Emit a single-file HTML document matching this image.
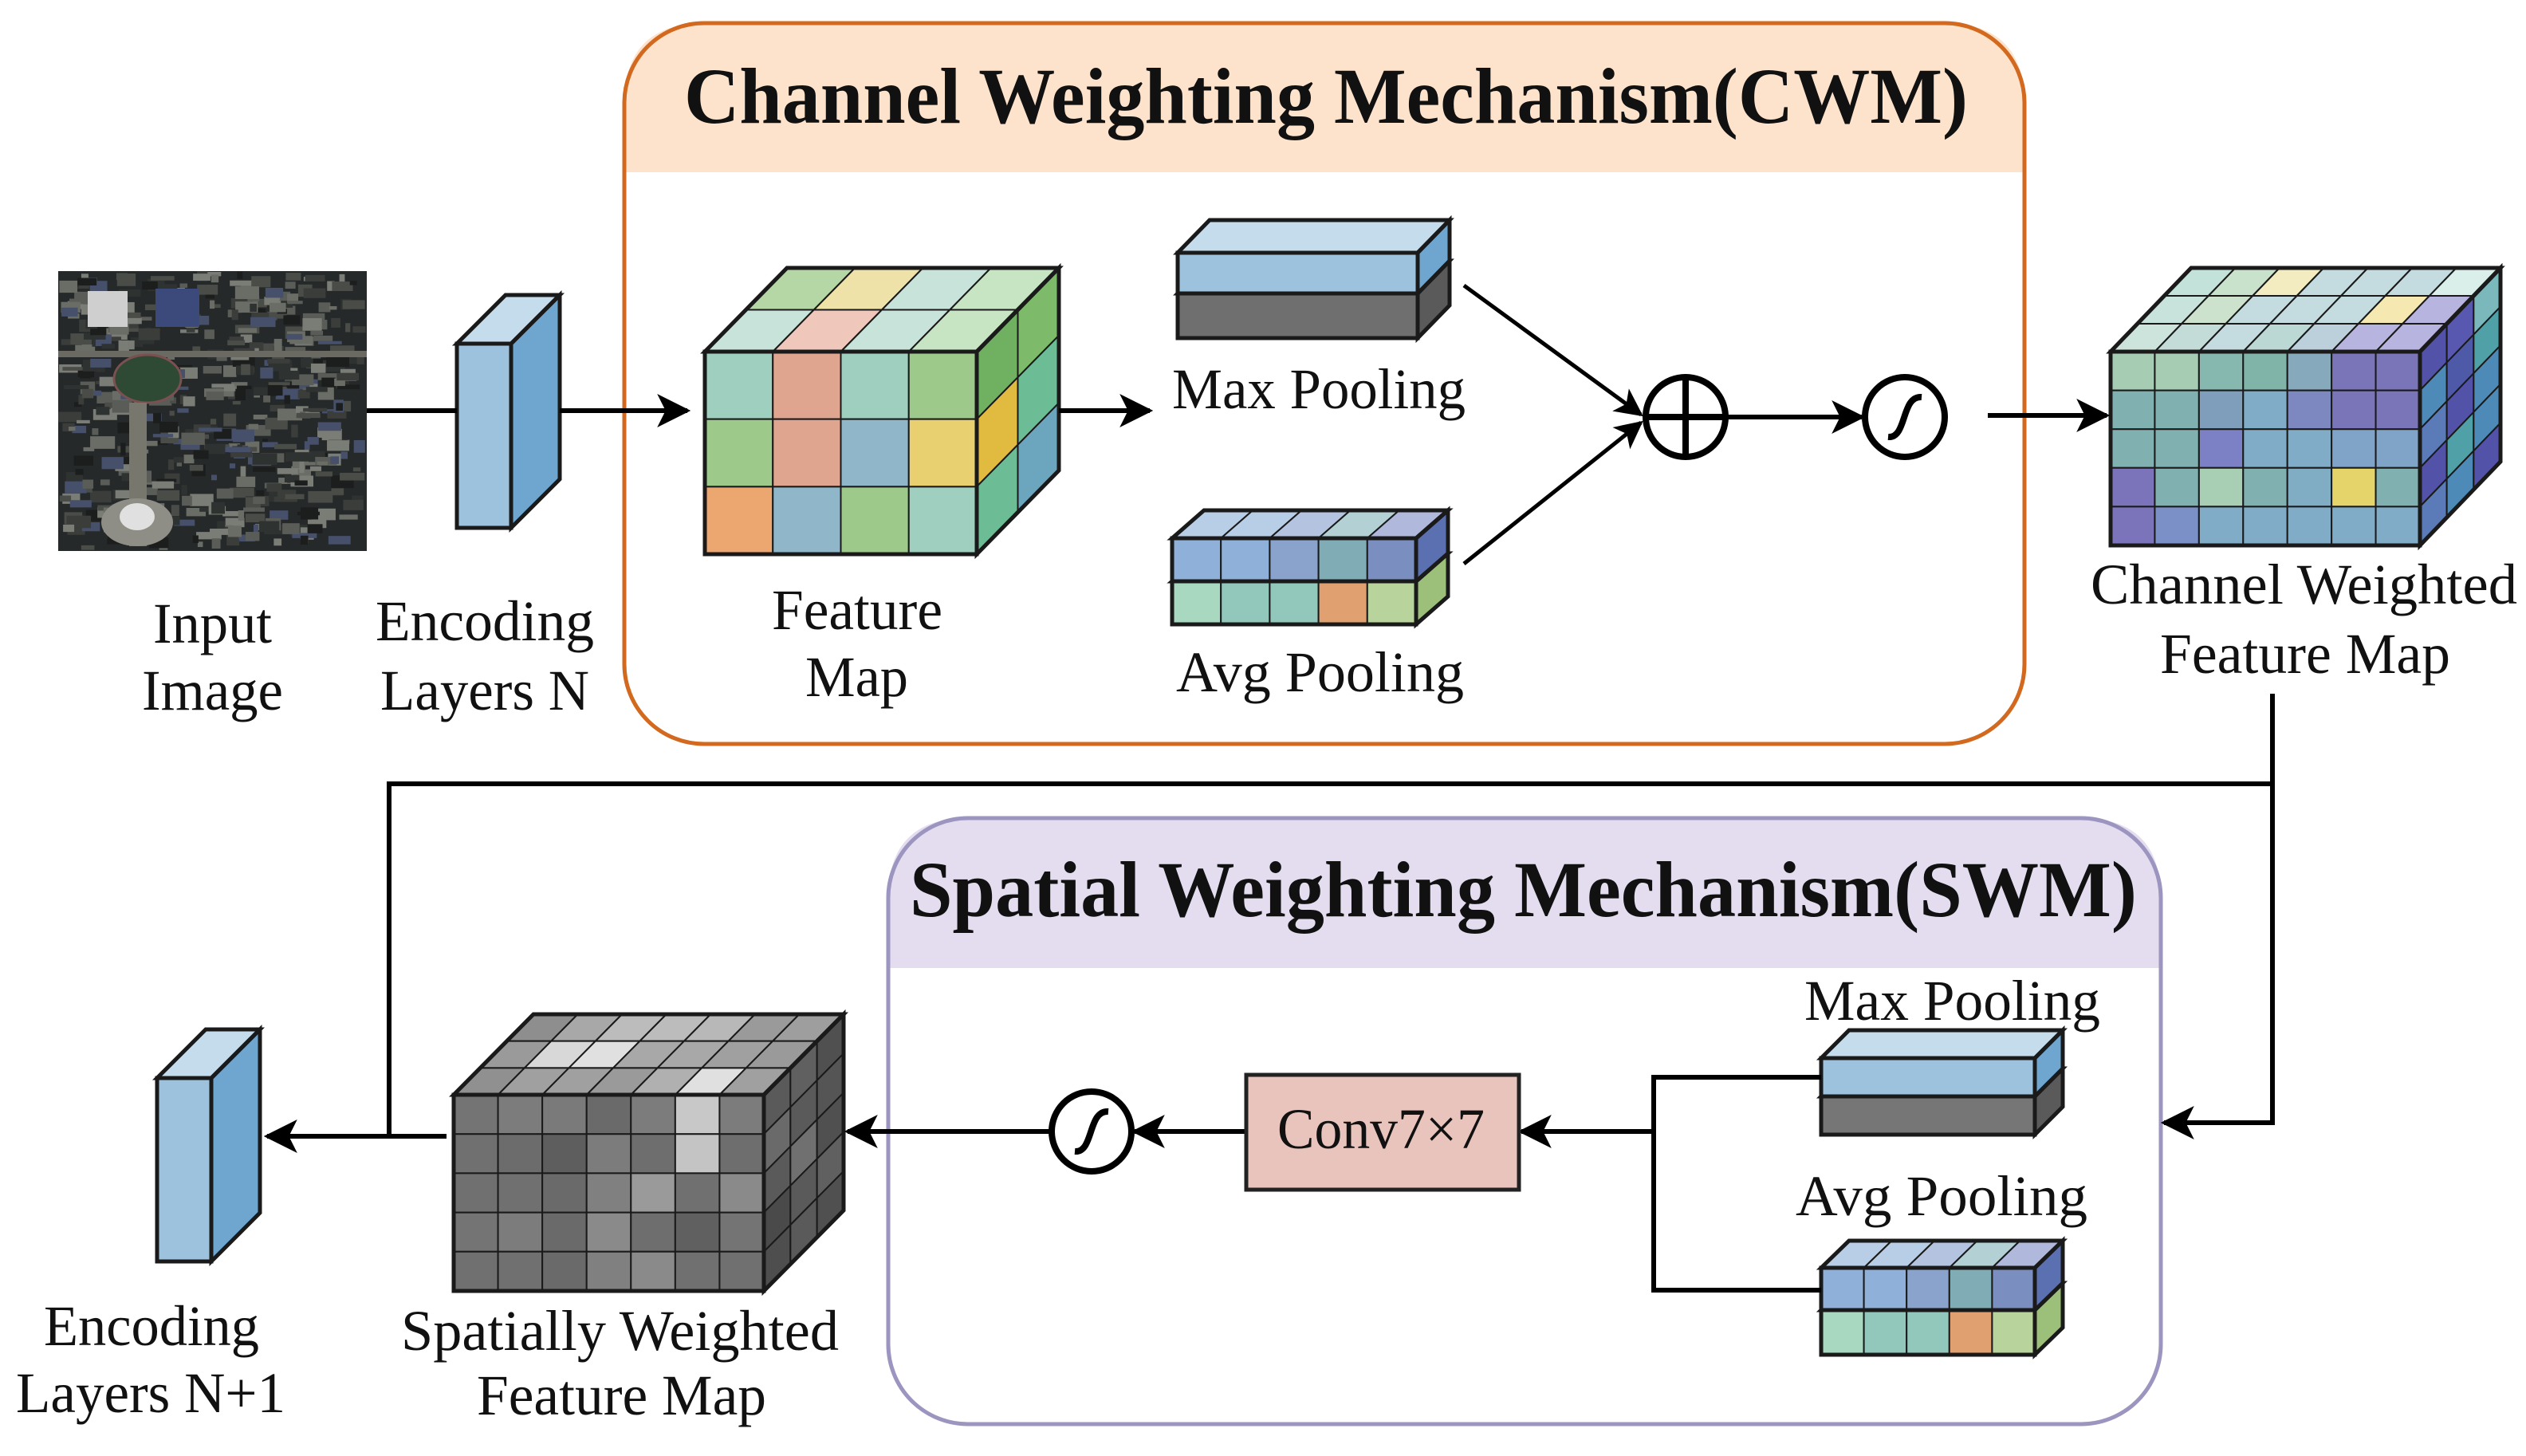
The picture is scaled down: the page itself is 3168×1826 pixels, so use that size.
<!DOCTYPE html>
<html><head><meta charset="utf-8"><style>
html,body{margin:0;padding:0;background:#fff;width:3168px;height:1826px;overflow:hidden}
svg{display:block}
text{font-family:"Liberation Serif",serif;fill:#111}
.l{font-size:72px}
.t{font-size:100px;font-weight:bold}
</style></head><body>
<svg id="s" width="3168" height="1826" viewBox="0 0 3168 1826" xmlns="http://www.w3.org/2000/svg">
<defs>
<marker id="ah" viewBox="0 0 20 20" refX="18" refY="10" markerWidth="7" markerHeight="7" orient="auto" markerUnits="strokeWidth">
<path d="M0,0 L20,10 L0,20 L5,10 Z" fill="#000"/>
</marker>
</defs>
<!-- CWM box -->
<path d="M783,216 V130 Q783,29 884,29 H2438 Q2539,29 2539,130 V216 Z" fill="#fde3cc"/>
<rect x="783" y="29" width="1756" height="904" rx="100" fill="none" stroke="#d2691e" stroke-width="5"/>
<text class="t" x="858" y="154" textLength="1610" lengthAdjust="spacingAndGlyphs">Channel Weighting Mechanism(CWM)</text>
<!-- SWM box -->
<path d="M1114,1214 V1126 Q1114,1026 1214,1026 H2610 Q2710,1026 2710,1126 V1214 Z" fill="#e4ddf0"/>
<rect x="1114" y="1026" width="1596" height="760" rx="100" fill="none" stroke="#9b95c0" stroke-width="5"/>
<text class="t" x="1141" y="1149" textLength="1539" lengthAdjust="spacingAndGlyphs">Spatial Weighting Mechanism(SWM)</text>

<!-- input image -->
<g id="img">
<rect x="73" y="340" width="387" height="351" fill="#26292a"/>
</g>
<g id="cubes"></g>

<!-- CWM connectors -->
<g stroke="#000" stroke-width="6" fill="none">
<line x1="460" y1="515" x2="573" y2="515"/>
<line x1="702" y1="515" x2="862" y2="515" marker-end="url(#ah)"/>
<line x1="1328" y1="515" x2="1442" y2="515" marker-end="url(#ah)"/>
<line x1="1836" y1="358" x2="2058" y2="520" stroke-width="5" marker-end="url(#ah)"/>
<line x1="1836" y1="707" x2="2058" y2="530" stroke-width="5" marker-end="url(#ah)"/>
<circle cx="2114" cy="523" r="50" stroke-width="8"/>
<line x1="2064" y1="523" x2="2164" y2="523" stroke-width="8"/>
<line x1="2114" y1="473" x2="2114" y2="573" stroke-width="8"/>
<line x1="2164" y1="523" x2="2335" y2="523" marker-end="url(#ah)"/>
<circle cx="2389" cy="523" r="50" stroke-width="8"/>
<path d="M2368,548 C2392,550 2384,496 2410,498" stroke-width="8"/>
<line x1="2493" y1="521" x2="2642" y2="521" marker-end="url(#ah)"/>
<!-- loop -->
<polyline points="2850,870 2850,983 488,983 488,1425"/>
<polyline points="2850,983 2850,1408 2714,1408" marker-end="url(#ah)"/>
<line x1="560" y1="1425" x2="335" y2="1425" marker-end="url(#ah)"/>
<!-- SWM connectors -->
<polyline points="2284,1351 2074,1351 2074,1618 2284,1618"/>
<line x1="2074" y1="1419" x2="1908" y2="1419" marker-end="url(#ah)"/>
<line x1="1563" y1="1419" x2="1423" y2="1419" marker-end="url(#ah)"/>
<circle cx="1369" cy="1419" r="50" stroke-width="8"/>
<path d="M1348,1444 C1372,1446 1364,1392 1390,1394" stroke-width="8"/>
<line x1="1317" y1="1419" x2="1063" y2="1419" marker-end="url(#ah)"/>
</g>
<rect x="1563" y="1348" width="342" height="144" fill="#e8c4bc" stroke="#222" stroke-width="5"/>
<text class="l" x="1602" y="1440" textLength="260" lengthAdjust="spacingAndGlyphs">Conv7×7</text>

<!-- labels -->
<text class="l" x="192" y="806" textLength="149" lengthAdjust="spacingAndGlyphs">Input</text>
<text class="l" x="178" y="890" textLength="177" lengthAdjust="spacingAndGlyphs">Image</text>
<text class="l" x="471" y="803" textLength="274" lengthAdjust="spacingAndGlyphs">Encoding</text>
<text class="l" x="477" y="890" textLength="262" lengthAdjust="spacingAndGlyphs">Layers N</text>
<text class="l" x="968" y="789" textLength="214" lengthAdjust="spacingAndGlyphs">Feature</text>
<text class="l" x="1010" y="873" textLength="129" lengthAdjust="spacingAndGlyphs">Map</text>
<text class="l" x="1470" y="512" textLength="368" lengthAdjust="spacingAndGlyphs">Max Pooling</text>
<text class="l" x="1475" y="867" textLength="361" lengthAdjust="spacingAndGlyphs">Avg Pooling</text>
<text class="l" x="2622" y="757" textLength="535" lengthAdjust="spacingAndGlyphs">Channel Weighted</text>
<text class="l" x="2709" y="844" textLength="364" lengthAdjust="spacingAndGlyphs">Feature Map</text>
<text class="l" x="2263" y="1279" textLength="371" lengthAdjust="spacingAndGlyphs">Max Pooling</text>
<text class="l" x="2252" y="1524" textLength="366" lengthAdjust="spacingAndGlyphs">Avg Pooling</text>
<text class="l" x="503" y="1693" textLength="549" lengthAdjust="spacingAndGlyphs">Spatially Weighted</text>
<text class="l" x="598" y="1774" textLength="363" lengthAdjust="spacingAndGlyphs">Feature Map</text>
<text class="l" x="55" y="1687" textLength="270" lengthAdjust="spacingAndGlyphs">Encoding</text>
<text class="l" x="20" y="1771" textLength="338" lengthAdjust="spacingAndGlyphs">Layers N+1</text>
</svg>
<script>
var NS="http://www.w3.org/2000/svg",G=document.getElementById("cubes");
// textured satellite image
(function(){var I=document.getElementById("img"),seed=7;function r(){seed=(seed*16807)%2147483647;return seed/2147483647;}
var cs=["#3a3d3a","#4a4c48","#5a5c58","#1c1e1e","#6a6c66","#2e3230","#46506a","#7a7c76"];
for(var k=0;k<520;k++){var e=document.createElementNS(NS,"rect");var w=6+r()*26,h=4+r()*12;e.setAttribute("x",73+r()*(387-w));e.setAttribute("y",340+r()*(351-h));e.setAttribute("width",w);e.setAttribute("height",h);e.setAttribute("fill",cs[Math.floor(r()*cs.length)]);I.appendChild(e);}
function add(tag,at){var e=document.createElementNS(NS,tag);for(var a in at)e.setAttribute(a,at[a]);I.appendChild(e);}
add("rect",{x:110,y:365,width:50,height:45,fill:"#cfcfcf"});
add("rect",{x:195,y:362,width:55,height:48,fill:"#3b4a7a"});
add("rect",{x:73,y:440,width:387,height:8,fill:"#6a6a62"});
add("ellipse",{cx:185,cy:475,rx:42,ry:30,fill:"#2f4a34",stroke:"#7a5050","stroke-width":3});
add("rect",{x:162,y:505,width:22,height:180,fill:"#77776e"});
add("ellipse",{cx:172,cy:655,rx:45,ry:30,fill:"#8e8e86"});
add("ellipse",{cx:172,cy:648,rx:22,ry:17,fill:"#e0e0e0"});
})();
function poly(pts,fill,sw){var p=document.createElementNS(NS,"polygon");p.setAttribute("points",pts.map(function(a){return a[0]+","+a[1]}).join(" "));p.setAttribute("fill",fill||"none");p.setAttribute("stroke","#1a1a1a");p.setAttribute("stroke-width",sw||2);G.appendChild(p);}
function lerp(a,b,t){return [a[0]+(b[0]-a[0])*t,a[1]+(b[1]-a[1])*t];}
function quadGrid(A,B,C,D,nu,nv,cols){
 for(var j=0;j<nv;j++)for(var i=0;i<nu;i++){
  var f=function(u,v){var p=lerp(A,B,u),q=lerp(D,C,u);return lerp(p,q,v);};
  var u0=i/nu,u1=(i+1)/nu,v0=j/nv,v1=(j+1)/nv;
  poly([f(u0,v0),f(u1,v0),f(u1,v1),f(u0,v1)],cols[(j*nu+i)%cols.length],2);
 }
}
function cube(x,y,w,h,dx,dy,nc,nr,tr,sc,front,top,side){
 var A=[x,y],B=[x+w,y],C=[x+w,y+h],D=[x,y+h],A2=[x+dx,y+dy],B2=[x+w+dx,y+dy],C2=[x+w+dx,y+h+dy];
 quadGrid(A2,B2,B,A,nc,tr,top);
 quadGrid(B,B2,C2,C,sc,nr,side);
 quadGrid(A,B,C,D,nc,nr,front);
 poly([A,B,C,D],"none",5);poly([A,A2,B2,B],"none",5);poly([B,B2,C2,C],"none",5);
}
cube(573,431,68,231,61,-61,1,1,1,1,["#9cc2de"],["#c5dcec"],["#6fa6cf"]);
cube(197,1352,68,230,61,-61,1,1,1,1,["#9cc2de"],["#c5dcec"],["#6fa6cf"]);
cube(884,441,341,254,103,-105,4,3,2,2,
 ["#9fd0bf","#e0a58f","#9fd0bf","#9dca8a","#9dca8a","#e0a58f","#8fb6c9","#e8d070","#eca670","#8fb6c9","#9dca8a","#9fd0bf"],
 ["#b5d6a5","#efe2a8","#c8e4da","#c7e5c3","#c8e4da","#efc7bb","#c8e4da","#c7e5c3"],
 ["#6fb061","#7dbb6a","#e0bb40","#6cbd96","#6cbd96","#6ba6be"]);
// CWM max pooling (lower first)
cube(1477,368,301,56,40,-41,1,1,1,1,["#6f6f6f"],["#888"],["#5a5a5a"]);
cube(1477,317,301,51,40,-41,1,1,1,1,["#9cc2de"],["#c5dcec"],["#6fa6cf"]);
// CWM avg pooling
cube(1470,729,306,54,40,-35,5,1,1,1,["#a8d8c0","#92c8bc","#92c8bc","#e0a070","#b8d49c"],["#ccc"],["#9cc07a"]);
cube(1470,675,306,54,40,-35,5,1,1,1,["#8fb0d8","#8fb0d8","#8aa3cc","#80adb5","#7b8ec0"],["#b8cde6","#b8cde6","#b4c4e0","#b3d0d4","#b0b8dc"],["#5a70b0"]);
cube(2647,441,388,243,101,-105,7,5,3,3,
 ["#a6ccb4","#a6ccb4","#86b8b0","#80b4a8","#86aabc","#7a74b8","#7a74b8",
  "#80b0b0","#80b0b0","#7e9ebc","#80acc8","#7e88c0","#7a74b8","#7a74b8",
  "#80b0b0","#80b0b0","#7c80c4","#80acc8","#80acc8","#80a4c8","#80a4c8",
  "#7b74ba","#80b0b0","#a8ceb4","#80b0b0","#80acc4","#e4d46a","#80b0b0",
  "#7b74ba","#7c90c8","#80acc8","#80acc8","#80acc8","#80acc8","#80acc8"],
 ["#c2e2da","#c8e2cc","#f2ecc0","#c4dce0","#c4dce0","#c4dce0","#daeeea",
  "#c8e2dc","#cce2cc","#c4dce0","#c4dce0","#c4dce0","#f5e8b0","#b8b4e0",
  "#cce4dc","#c4dcd8","#c4dce0","#bcd8d4","#bcd0dc","#b8b4e0","#b8b4e0"],
 ["#5252a8","#5858b0","#7ab8bc","#4e8ab8","#4e5aa8","#50a0a8","#5a7ab8","#5252a8","#4e8ab8","#5252a8","#50a0a8","#4e8ab8","#5a7ab8","#4e8ab8","#5252a8"]);
// SWM max pooling
cube(2284,1375,268,48,35,-35,1,1,1,1,["#767676"],["#888"],["#5a5a5a"]);
cube(2284,1327,268,48,35,-35,1,1,1,1,["#9cc2de"],["#c5dcec"],["#6fa6cf"]);
// SWM avg pooling
cube(2284,1643,268,56,35,-34,5,1,1,1,["#a8d8c0","#92c8bc","#92c8bc","#e0a070","#b8d49c"],["#ccc"],["#9cc07a"]);
cube(2284,1590,268,53,35,-34,5,1,1,1,["#8fb0d8","#8fb0d8","#8aa3cc","#80adb5","#7b8ec0"],["#b8cde6","#b8cde6","#b4c4e0","#b3d0d4","#b0b8dc"],["#5a70b0"]);
cube(569,1373,389,246,100,-101,7,5,3,3,
 ["#747474","#7c7c7c","#7a7a7a","#6a6a6a","#7c7c7c","#c8c8c8","#7c7c7c",
  "#707070","#6c6c6c","#5e5e5e","#7c7c7c","#6e6e6e","#c4c4c4","#6e6e6e",
  "#707070","#707070","#6a6a6a","#808080","#9a9a9a","#707070","#8a8a8a",
  "#747474","#7c7c7c","#6a6a6a","#8a8a8a","#6e6e6e","#606060","#747474",
  "#707070","#707070","#6a6a6a","#808080","#8a8a8a","#707070","#707070"],
 ["#8e8e8e","#a8a8a8","#bcbcbc","#bcbcbc","#b8b8b8","#9a9a9a","#9e9e9e",
  "#9a9a9a","#d8d8d8","#e0e0e0","#a8a8a8","#a8a8a8","#a0a0a0","#9a9a9a",
  "#909090","#a0a0a0","#a0a0a0","#9a9a9a","#b0b0b0","#e0e0e0","#a0a0a0"],
 ["#5a5a5a","#606060","#505050","#6a6a6a","#5a5a5a","#555","#5a5a5a","#707070","#505050","#4a4a4a","#5a5a5a","#606060","#4e4e4e","#5a5a5a","#505050"]);
</script>
</body></html>
